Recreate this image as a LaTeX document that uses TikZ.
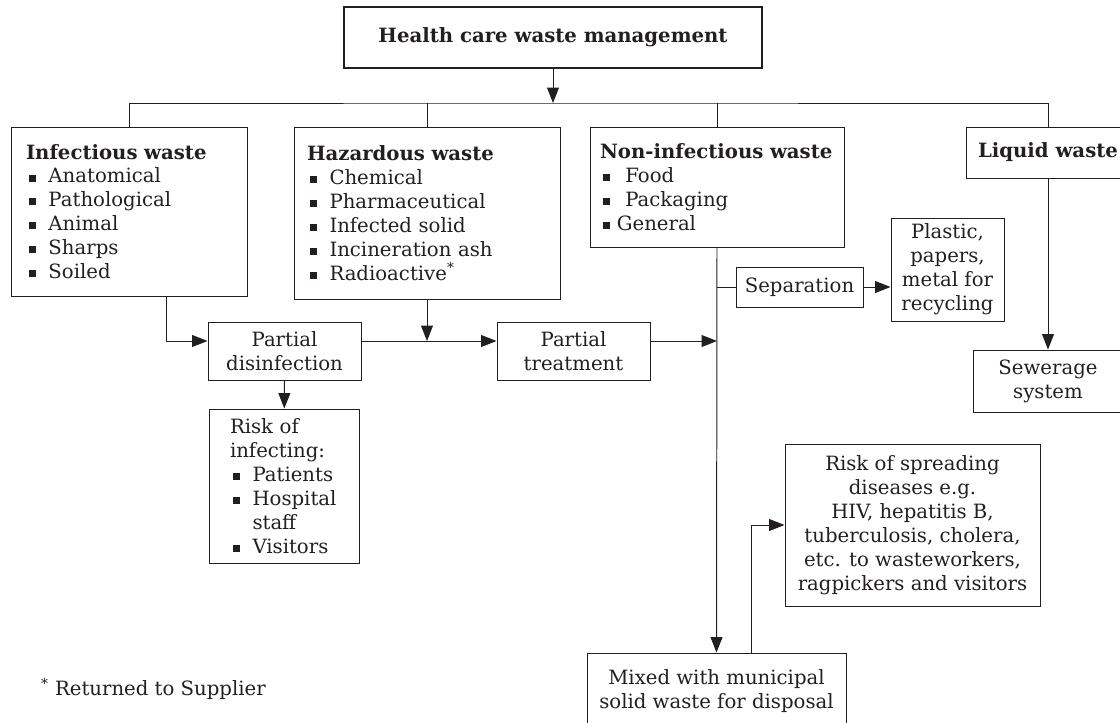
\documentclass[tikz,border=0pt]{standalone}
\usepackage{fontspec}
\setmainfont{DejaVu Serif}
\usetikzlibrary{arrows.meta}
\definecolor{ink}{HTML}{231F20}
\newcommand{\pix}{0.025cm}
\newcommand{\sqb}{\rule[1pt]{5pt}{5pt}}
\newcommand{\itm}{\hspace*{2pt}\sqb\hspace{9pt}}
\begin{document}
\begin{tikzpicture}[x=\pix,y=-\pix,>={Triangle[length=11pt,width=8.5pt]},color=ink,line width=0.7pt,
        box/.style={draw,inner sep=0pt},
        sz/.style 2 args={minimum width=#1*\pix,minimum height=#2*\pix},
        tw/.style={text width=#1*\pix,align=left}]
                \tikzstyle{every node}=[font=\fontsize{14}{17}\selectfont]
                \useasboundingbox (0,0) rectangle (1120,723);
                \node (title) at (553,37.5) [box,sz={418}{61},line width=1.8pt,font=\fontsize{14}{17}\selectfont\bfseries]{Health care waste management};
                \node (inf) at (129,211.5) [box,sz={236}{169},tw={206}]{\textbf{Infectious waste}\\\itm Anatomical\\\itm Pathological\\\itm Animal\\\itm Sharps\\\itm Soiled};
                \node (haz) at (427,213) [box,sz={266}{172},tw={240}]{\textbf{Hazardous waste}\\\itm Chemical\\\itm Pharmaceutical\\\itm Infected solid\\\itm Incineration ash\\\itm Radioactive\textsuperscript{*}};
                \node (non) at (717,187) [box,sz={254}{120},tw={234}]{\textbf{Non-infectious waste}\\\itm\hspace{2pt}Food\\\itm\hspace{2pt}Packaging\\\hspace*{2pt}\sqb\hspace{5pt}General};
                \node (liq) at (1048,152.5) [box,sz={164}{51}]{\textbf{Liquid waste}};
                \node (sew) at (1048,381) [box,sz={150}{62},align=center]{Sewerage\\system};
                \node (sep) at (799.5,287) [box,sz={127}{40}]{Separation};
                \node (rec) at (947.5,269.5) [box,sz={113}{103},align=center]{Plastic,\\papers,\\metal for\\recycling};
                \node (pdis) at (284.5,351) [box,sz={153}{58},align=center]{Partial\\disinfection};
                \node (ptr) at (573.5,351) [box,sz={153}{58},align=center]{Partial\\treatment};
                \node (risk) at (284,486) [box,sz={150}{154},tw={108}]{Risk of\\infecting:\\\itm Patients\\\itm Hospital\\\hspace*{16pt}staff\\\itm Visitors};
                \node (spread) at (912.5,525) [box,sz={255}{162},align=center]{Risk of spreading\\diseases e.g.\\HIV, hepatitis B,\\tuberculosis, cholera,\\etc. to wasteworkers,\\ragpickers and visitors};
                \node (mix) at (716.5,691) [box,sz={259}{76},align=center]{Mixed with municipal\\solid waste for disposal};
                \node (note) at (36,689) [anchor=west]{\textsuperscript{*} Returned to Supplier};
                \coordinate (bus) at (553,103);
                \coordinate (fl) at (166,341);
                \coordinate (up) at (751,0);
                \draw [->](title)--(bus);
                \draw (inf.north) |- (bus) -| (liq.north);
                \draw (haz.north)--(haz.north |- bus);
                \draw (non.north)--(non.north |- bus);
                \draw [->](inf.south -| fl) |- (pdis.west |- fl);
                \draw [->](pdis.east |- fl)--(ptr.west |- fl);
                \draw [->](haz.south)--(haz.south |- fl);
                \draw [->](ptr.east |- fl)--(non.south |- fl);
                \draw [->](non.south)--(mix.north);
                \draw (non.south |- sep)--(sep.west);
                \draw [->](sep.east)--(sep.east -| rec.west);
                \draw [->](liq)--(sew);
                \draw [->](pdis)--(risk);
                \draw [->](mix.north -| up) |- (spread.west);
            \end{tikzpicture}
\end{document}
